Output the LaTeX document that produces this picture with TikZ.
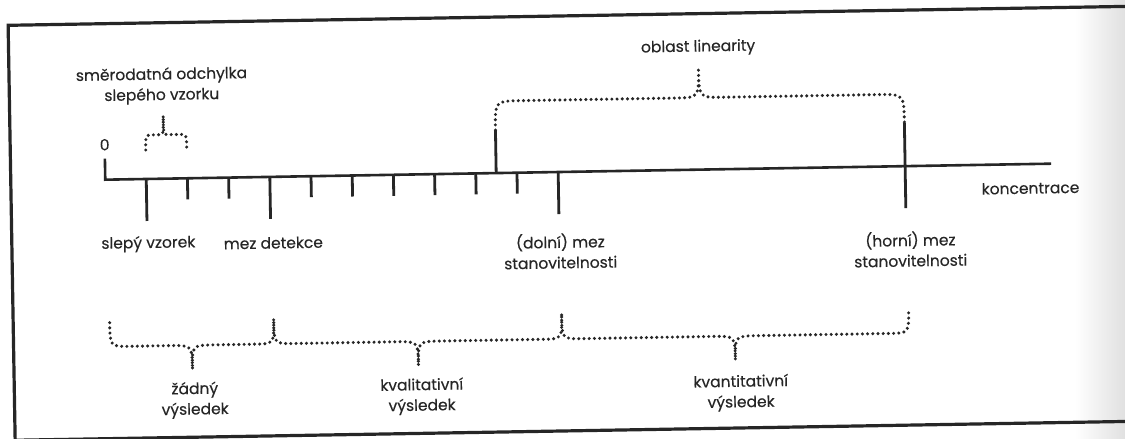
\documentclass[tikz,border=0pt]{standalone}
\usepackage{fontspec}
\setmainfont{Poppins}[FakeBold=0.3]
\newcommand{\dotbrace}[8]{%
  \draw[dotline] (#1,#4) .. controls (#1,#5) .. ({#1+#7},#5) -- ({#3-#8},#5)
    .. controls (#3,#5) .. (#3,#6) .. controls (#3,#5) .. ({#3+#8},#5)
    -- ({#2-#7},#5) .. controls (#2,#5) .. (#2,#4);}
\begin{document}
\begin{tikzpicture}[x=1pt,y=-1pt,
  frame/.style={draw=black!85,line width=3.2pt},
  axisline/.style={draw=black!85,line width=2.6pt},
  tickline/.style={draw=black!85,line width=2.8pt},
  dotline/.style={draw=black!85,line width=3.4pt,line cap=round,dash pattern=on 0pt off 5.2pt},
  lbl/.style={font=\fontsize{15.5}{20.5}\selectfont,align=center,text=black!85,inner sep=0pt}]
\useasboundingbox (0,0) rectangle (1125,439);
\clip (0,0) rectangle (1125,439);
\fill[white] (0,0) rectangle (1125,439);
\shade[left color=white,right color=black!12] (1075,0) rectangle (1125,439);
\begin{scope}[rotate around={0.97:(560,220)},transform shape]
  % frame
  \draw[frame] (1150,16) -- (11.5,16) -- (11.5,431) -- (1150,431);
  % axis with origin tick
  \coordinate (o) at (106,172);
  \coordinate (otop) at (106,151);
  \coordinate (aend) at (1052,172);
  \draw[axisline] (otop) -- (o) -- (aend);
  \node[lbl] (zero) at (106,137) {0};
  \node[lbl] (konc) at (1031,196) {koncentrace};
  % ticks below the axis
  \foreach \i in {0,...,10}{
    \pgfmathsetmacro\tx{147+41.2*\i}
    \coordinate (t\i) at (\tx,172);
  }
  \foreach \i in {1,2,4,5,6,7,8,9}{
    \draw[tickline] (t\i) -- ++(0,21);
  }
  \foreach \i in {0,3,10}{
    \draw[tickline] (t\i) -- ++(0,42);
  }
  % linearity ticks
  \coordinate (linA) at (497,172);
  \coordinate (linAtop) at (497,129);
  \coordinate (linBtop) at (906,129);
  \coordinate (linBbot) at (906,214);
  \draw[tickline] (linA) -- (linAtop);
  \draw[tickline] (linBtop) -- (linBbot);
  % braces
  \dotbrace{147}{188}{165}{143}{128}{109}{7}{5}
  \dotbrace{497}{906}{701}{129}{100}{70}{26}{23}
  \dotbrace{108}{272}{190}{315}{339}{363}{20}{22}
  \dotbrace{272}{560}{416}{315}{339}{363}{20}{22}
  \dotbrace{560}{907}{733}{315}{339}{363}{20}{22}
  % labels
  \node[lbl] (sigma) at (164,79) {směrodatná odchylka\\slepého vzorku};
  \node[lbl] (lin) at (701,50) {oblast linearity};
  \node[lbl] (blank) at (148,237) {slepý vzorek};
  \node[lbl] (lod) at (273,238) {mez detekce};
  \node[lbl] (loq) at (560,251) {(dolní) mez\\stanovitelnosti};
  \node[lbl] (uoq) at (910,255) {(horní) mez\\stanovitelnosti};
  \node[lbl] (none) at (192,394) {žádný\\výsledek};
  \node[lbl] (qual) at (419,394) {kvalitativní\\výsledek};
  \node[lbl] (quant) at (738,396) {kvantitativní\\výsledek};
\end{scope}
\end{tikzpicture}
\end{document}
